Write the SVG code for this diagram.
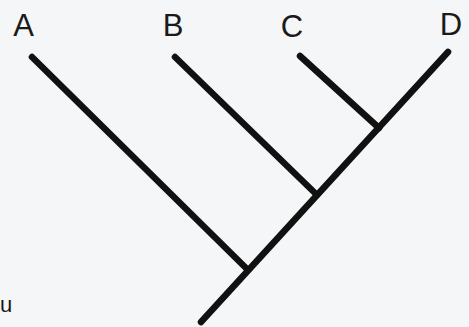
<svg xmlns="http://www.w3.org/2000/svg" width="469" height="327" viewBox="0 0 469 327">
<style>
.lbl{font-family:"Liberation Sans",Arial,sans-serif;font-size:31px;fill:#1a1a1a;text-anchor:middle}
.br{stroke:#111;stroke-width:6.5;stroke-linecap:round;fill:none}
</style>
<rect width="469" height="327" fill="#f5f6f8"/>
<g id="connectors">
<line class="br" x1="448" y1="52" x2="201" y2="322"/>
<line class="br" x1="32" y1="57" x2="248" y2="270"/>
<line class="br" x1="175" y1="57" x2="317" y2="195"/>
<line class="br" x1="300" y1="56" x2="379" y2="128"/>
</g>
<g id="A"><text class="lbl" x="23.5" y="36">A</text></g>
<g id="B"><text class="lbl" x="173" y="36">B</text></g>
<g id="C"><text class="lbl" x="292" y="37">C</text></g>
<g id="D"><text class="lbl" x="451" y="35">D</text></g>
<g id="u"><text x="6" y="312" style="font-family:'Liberation Sans',Arial,sans-serif;font-size:22px;fill:#1a1a1a;text-anchor:middle">u</text></g>
</svg>
